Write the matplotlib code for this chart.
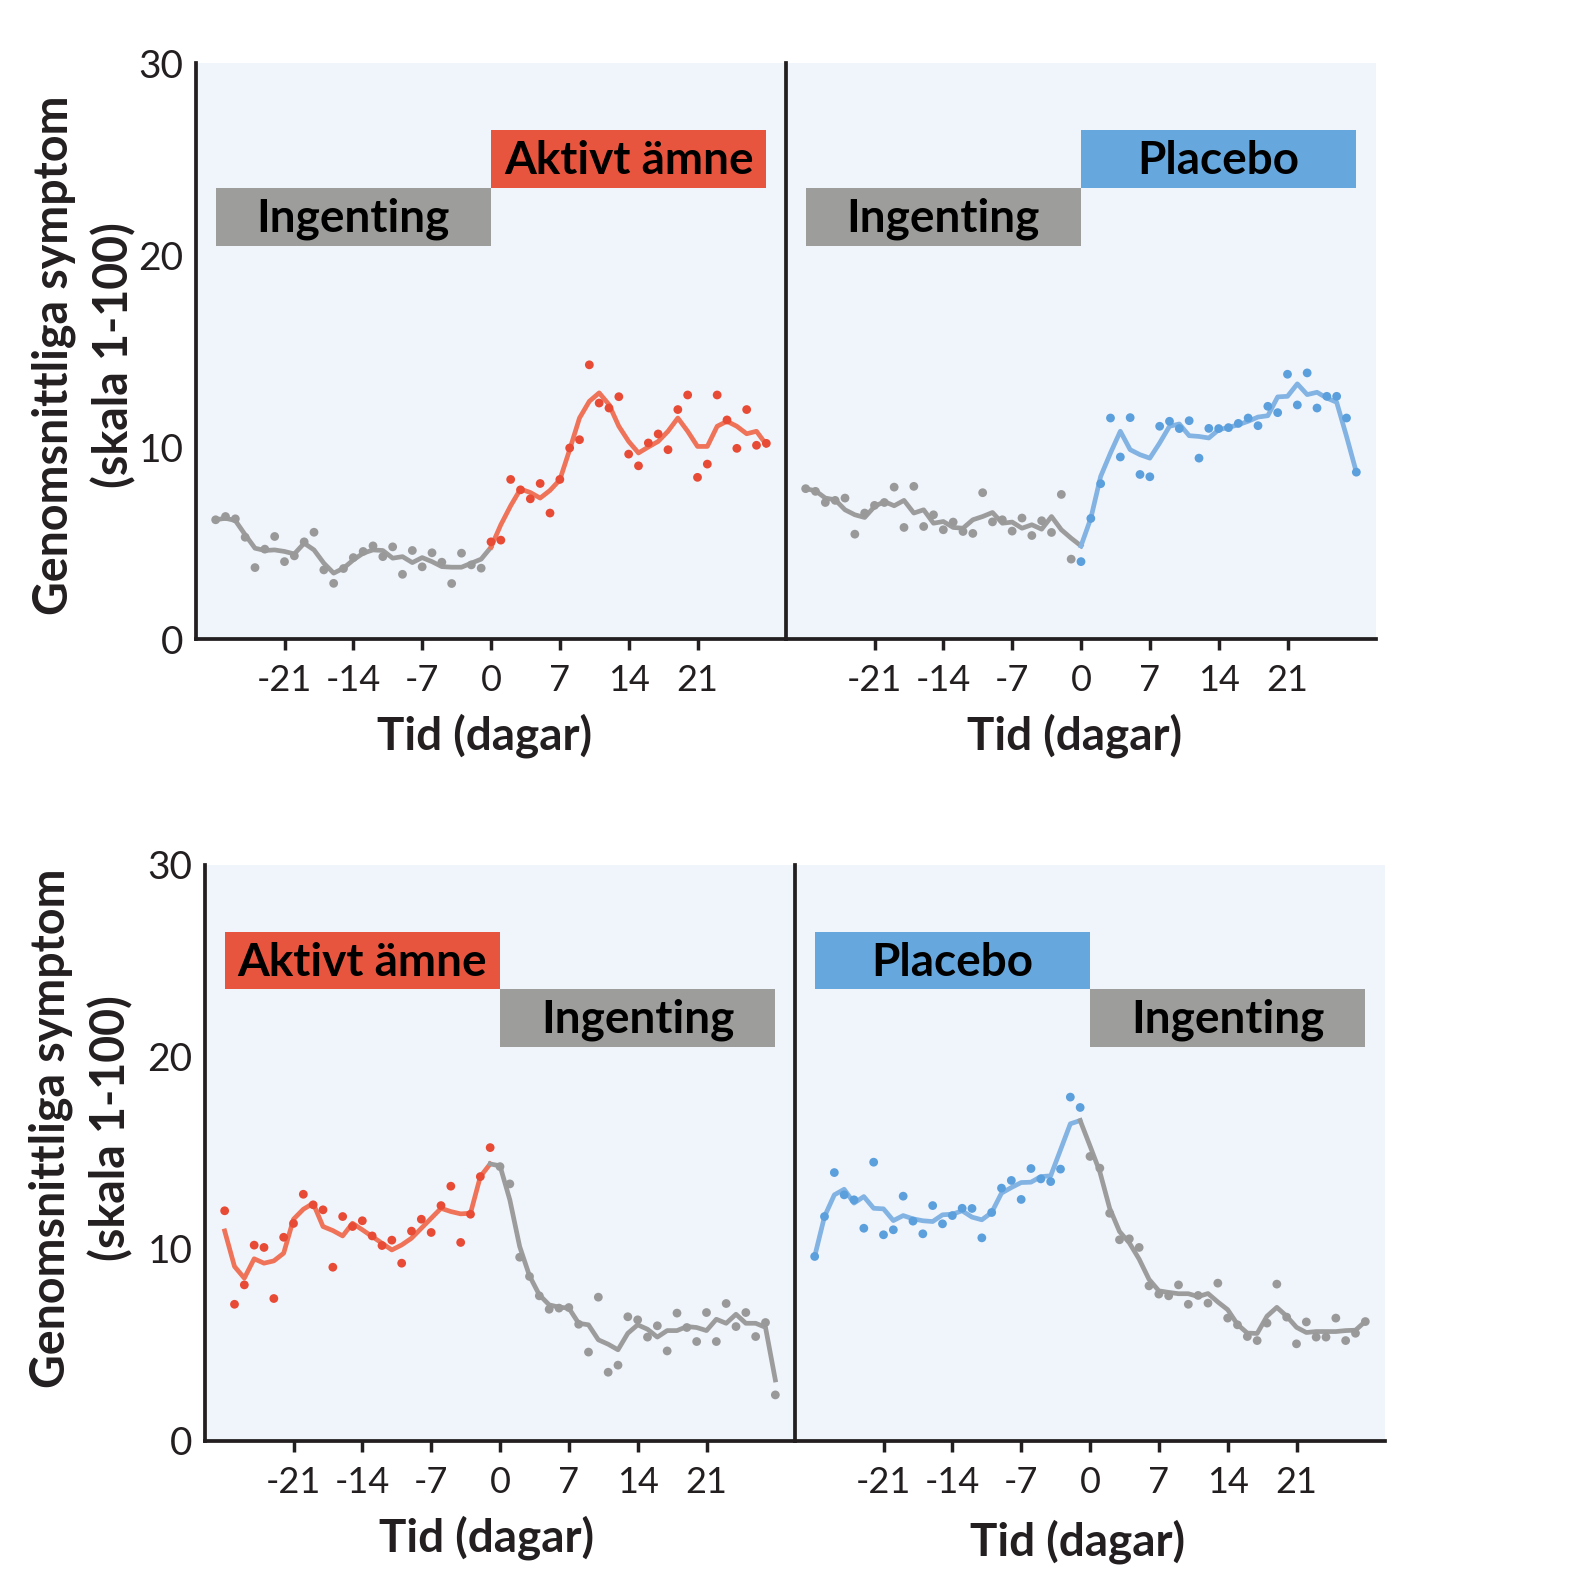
import matplotlib
matplotlib.use("Agg")
import matplotlib.pyplot as plt
from matplotlib.patches import Rectangle
import numpy as np

plt.rcParams['font.family'] = ['Lato', 'DejaVu Sans']

# ---- data (symptom score per day) ----
pre_days = list(range(-28, 0))      # -28 .. -1
post_days = list(range(0, 29))      # 0 .. 28

# top left: nothing -> active
tl_gray_dots = [6.22, 6.39, 6.27, 5.31, 3.73, 4.69, 5.35, 4.04, 4.34, 5.07, 5.57, 3.61, 2.91, 3.68,
                4.25, 4.57, 4.86, 4.30, 4.81, 3.38, 4.62, 3.77, 4.50, 4.01, 2.90, 4.48, 3.87, 3.70]
tl_gray_line = [6.22, 6.30, 6.18, 5.44, 4.74, 4.62, 4.65, 4.57, 4.44, 5.00, 4.65, 3.96, 3.44, 3.70,
                4.13, 4.48, 4.65, 4.62, 4.22, 4.30, 3.99, 4.25, 4.04, 3.78, 3.75, 3.75, 3.96, 4.17, 4.79]
tl_red_dots = [5.07, 5.16, 8.32, 7.78, 7.31, 8.11, 6.57, 8.32, 9.96, 10.39, 14.29, 12.30, 12.04, 12.63,
               9.64, 9.03, 10.22, 10.69, 9.87, 11.96, 12.72, 8.43, 9.12, 12.72, 11.42, 9.94, 11.96, 10.10, 10.20]
tl_red_line = [4.79, 5.96, 6.95, 7.82, 7.64, 7.35, 7.75, 8.30, 9.87, 11.52, 12.39, 12.83, 12.22, 11.09,
               10.30, 9.70, 10.01, 10.30, 10.83, 11.52, 10.83, 10.04, 10.04, 11.09, 11.35, 11.09, 10.70, 10.83, 10.13]

# top right: nothing -> placebo
tr_gray_dots = [7.84, 7.70, 7.12, 7.23, 7.35, 5.47, 6.57, 6.97, 7.12, 7.92, 5.82, 7.96, 5.87, 6.48,
                5.70, 6.10, 5.61, 5.51, 7.63, 6.11, 6.22, 5.63, 6.31, 5.40, 6.17, 5.56, 7.54, 4.17]
tr_gray_line = [7.84, 7.73, 7.35, 7.26, 6.74, 6.48, 6.34, 6.91, 7.17, 6.95, 7.23, 6.57, 6.74, 6.04,
                6.13, 5.82, 5.78, 6.22, 6.39, 6.60, 6.04, 6.10, 5.78, 5.96, 5.73, 6.39, 5.70, 5.26, 4.86]
tr_blue_dots = [4.04, 6.29, 8.10, 11.52, 9.49, 11.54, 8.58, 8.46, 11.09, 11.35, 10.97, 11.38, 9.43, 10.98,
                10.97, 11.02, 11.24, 11.52, 11.12, 12.13, 11.80, 13.80, 12.20, 13.87, 12.04, 12.65, 12.65, 11.52, 8.70]
tr_blue_line = [4.86, 6.30, 8.48, 9.70, 10.83, 9.87, 9.61, 9.43, 10.22, 11.09, 11.21, 10.60, 10.56, 10.48,
                10.91, 11.03, 11.17, 11.35, 11.57, 11.64, 12.62, 12.65, 13.30, 12.74, 12.86, 12.56, 12.34, 10.57, 8.70]

# bottom left: active -> nothing
bl_red_dots = [11.97, 7.10, 8.11, 10.18, 10.06, 7.40, 10.59, 11.31, 12.83, 12.28, 12.02, 9.03, 11.67, 11.15,
               11.45, 10.66, 10.16, 10.44, 9.24, 10.91, 11.53, 10.84, 12.24, 13.25, 10.32, 11.79, 13.75, 15.26]
bl_red_line = [10.92, 9.07, 8.46, 9.47, 9.24, 9.36, 9.76, 11.53, 12.05, 12.36, 11.15, 10.94, 10.66, 11.32,
               10.98, 10.63, 10.28, 9.93, 10.19, 10.54, 11.06, 11.58, 12.10, 11.93, 11.81, 11.84, 13.75, 14.41]
bl_gray_dots = [14.27, 13.37, 9.55, 8.55, 7.54, 6.84, 6.90, 6.93, 6.06, 4.61, 7.47, 3.56, 3.93, 6.45,
                6.29, 5.39, 5.98, 4.67, 6.64, 5.89, 5.16, 6.67, 5.16, 7.14, 5.94, 6.67, 5.42, 6.15, 2.38]
bl_gray_line = [14.41, 14.31, 12.54, 10.11, 8.58, 7.59, 7.07, 6.95, 6.90, 6.11, 6.03, 5.25, 5.02, 4.73, 5.59,
                6.03, 5.80, 5.39, 5.73, 5.73, 5.94, 5.89, 5.73, 6.32, 6.11, 6.58, 6.11, 6.11, 5.90, 3.16]

# bottom right: placebo -> nothing
br_blue_dots = [9.59, 11.67, 13.96, 12.80, 12.54, 11.06, 14.50, 10.72, 10.98, 12.73, 11.43, 10.77, 12.24, 11.29,
                11.72, 12.10, 12.09, 10.56, 11.88, 13.15, 13.55, 12.56, 14.17, 13.63, 13.49, 14.14, 17.89, 17.35]
br_blue_line = [9.59, 11.67, 12.80, 13.09, 12.37, 12.71, 12.10, 12.07, 11.46, 11.72, 11.55, 11.45, 11.41, 11.76,
                11.79, 11.97, 11.64, 11.50, 11.88, 12.89, 13.18, 13.44, 13.46, 13.75, 13.79, 15.14, 16.50, 16.67]
br_gray_dots = [14.80, 14.19, 11.84, 10.46, 10.51, 10.06, 8.06, 7.63, 7.54, 8.11, 7.10, 7.56, 7.16, 8.20,
                6.38, 6.03, 5.42, 5.21, 6.12, 8.15, 6.43, 5.04, 6.18, 5.39, 5.39, 6.38, 5.21, 5.59, 6.20]
br_gray_line = [16.67, 15.35, 14.00, 12.10, 10.89, 10.30, 9.45, 8.40, 7.80, 7.72, 7.65, 7.65, 7.50, 7.66, 7.22,
                6.82, 6.05, 5.60, 5.58, 6.48, 6.94, 6.48, 5.90, 5.63, 5.68, 5.68, 5.68, 5.73, 5.75, 6.21]

xticks = [-21, -14, -7, 0, 7, 14, 21]
yticks = [0, 10, 20, 30]
phase_spans = [(-28, 0), (0, 28)]
low_band = (20.5, 23.5)
high_band = (23.5, 26.5)

# ---- colours ----
BG = '#f0f5fc'
INK = '#231f20'
GRAY_DOT, GRAY_LINE, GRAY_BOX = '#999999', '#9c9c9c', '#9d9d9b'
RED_DOT, RED_LINE, RED_BOX = '#e84b35', '#ef7358', '#e8553e'
BLUE_DOT, BLUE_LINE, BLUE_BOX = '#5b9fdc', '#82b3e3', '#66a8dd'

fig = plt.figure(figsize=(15.8, 15.9), dpi=100)

W, H = 1580, 1590
axes_px = {
    'tl': (196, 639.2), 'tr': (786, 639.2),
    'bl': (205, 1440.6), 'br': (795, 1440.6),
}
AW, AH = 590, 576


def make_ax(key, left_panel):
    x0, y0 = axes_px[key]
    ax = fig.add_axes([x0 / W, 1 - y0 / H, AW / W, AH / H])
    ax.set_facecolor(BG)
    ax.set_xlim(-30, 30)
    ax.set_ylim(0, 30)
    for s in ['top', 'right']:
        ax.spines[s].set_visible(False)
    for s in ['left', 'bottom']:
        ax.spines[s].set_linewidth(2.7)
        ax.spines[s].set_color(INK)
    ax.set_xticks(xticks)
    ax.set_xticklabels([str(t) for t in xticks])
    ax.tick_params(axis='x', length=8, width=2.5, color=INK, labelsize=26,
                   labelcolor=INK, pad=10)
    if left_panel:
        ax.set_yticks(yticks)
        ax.tick_params(axis='y', length=0, labelsize=28, labelcolor=INK, pad=9)
    else:
        ax.set_yticks([])
    return ax


def band(ax, span, yb, color, label):
    ax.add_patch(Rectangle((span[0], yb[0]), span[1] - span[0], yb[1] - yb[0],
                           facecolor=color, edgecolor='none', zorder=2))
    ax.text((span[0] + span[1]) / 2, (yb[0] + yb[1]) / 2 - 0.1, label, ha='center', va='center',
            fontsize=33, fontweight='bold', color='black', zorder=3)


def series(ax, xs, ys, color_line, color_dot, dots_x, dots_y):
    ax.plot(xs, ys, color=color_line, lw=3.4, zorder=3, solid_joinstyle='round')
    ax.scatter(dots_x, dots_y, s=40, color=color_dot, edgecolors='none', zorder=4)


ax_tl = make_ax('tl', True)
ax_tr = make_ax('tr', False)
ax_bl = make_ax('bl', True)
ax_br = make_ax('br', False)

# top left
series(ax_tl, pre_days + [0], tl_gray_line, GRAY_LINE, GRAY_DOT, pre_days, tl_gray_dots)
series(ax_tl, post_days, tl_red_line, RED_LINE, RED_DOT, post_days, tl_red_dots)
band(ax_tl, phase_spans[0], low_band, GRAY_BOX, 'Ingenting')
band(ax_tl, phase_spans[1], high_band, RED_BOX, 'Aktivt ämne')

# top right
series(ax_tr, pre_days + [0], tr_gray_line, GRAY_LINE, GRAY_DOT, pre_days, tr_gray_dots)
series(ax_tr, post_days, tr_blue_line, BLUE_LINE, BLUE_DOT, post_days, tr_blue_dots)
band(ax_tr, phase_spans[0], low_band, GRAY_BOX, 'Ingenting')
band(ax_tr, phase_spans[1], high_band, BLUE_BOX, 'Placebo')

# bottom left
series(ax_bl, pre_days, bl_red_line, RED_LINE, RED_DOT, pre_days, bl_red_dots)
series(ax_bl, [-1] + post_days, bl_gray_line, GRAY_LINE, GRAY_DOT, post_days, bl_gray_dots)
band(ax_bl, phase_spans[0], high_band, RED_BOX, 'Aktivt ämne')
band(ax_bl, phase_spans[1], low_band, GRAY_BOX, 'Ingenting')

# bottom right
series(ax_br, pre_days, br_blue_line, BLUE_LINE, BLUE_DOT, pre_days, br_blue_dots)
series(ax_br, [-1] + post_days, br_gray_line, GRAY_LINE, GRAY_DOT, post_days, br_gray_dots)
band(ax_br, phase_spans[0], high_band, BLUE_BOX, 'Placebo')
band(ax_br, phase_spans[1], low_band, GRAY_BOX, 'Ingenting')

ylabel = 'Genomsnittliga symptom\n(skala 1-100)'
fig.text(84 / W, 1 - 355 / H, ylabel, rotation=90, ha='center', va='center',
         multialignment='center', fontsize=33.5, fontweight='bold', color=INK, linespacing=1.4)
fig.text(81 / W, 1 - 1128 / H, ylabel, rotation=90, ha='center', va='center',
         multialignment='center', fontsize=33.5, fontweight='bold', color=INK, linespacing=1.4)

for xc, yb in [(485, 750), (1075, 750), (487, 1552), (1078, 1556)]:
    fig.text(xc / W, 1 - yb / H, 'Tid (dagar)', ha='center', va='baseline',
             fontsize=33, fontweight='bold', color=INK)

fig.savefig('out.png', dpi=100, facecolor='white')
